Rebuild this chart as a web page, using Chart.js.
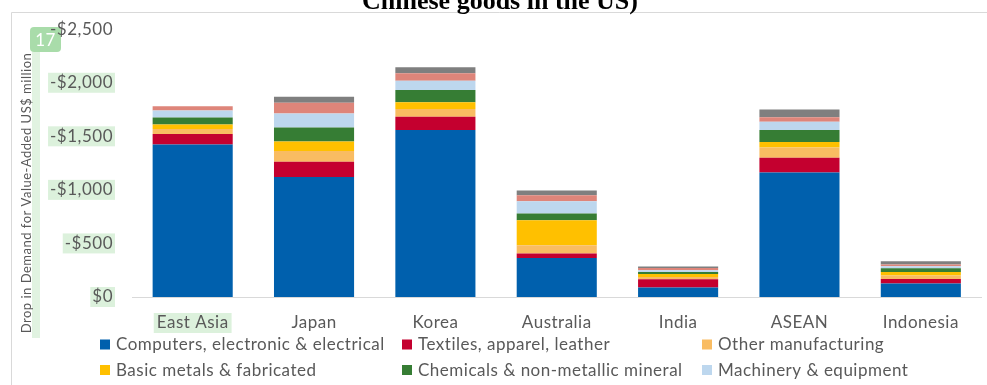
<!DOCTYPE html>
<html>
<head>
<meta charset="utf-8">
<script src="https://cdn.jsdelivr.net/npm/chart.js@4.4.1/dist/chart.umd.min.js"></script>
<style>
  html, body { margin: 0; padding: 0; background: #ffffff; }
  #wrap { width: 987px; height: 385px; position: relative; }
</style>
</head>
<body>
<div id="wrap"><canvas id="chart" width="987" height="385"></canvas></div>
<script>
// Regions hit by the demand drop
const regions = ['East Asia', 'Japan', 'Korea', 'Australia', 'India', 'ASEAN', 'Indonesia'];

// Drop in value-added demand by sector, US$ million (negative = drop)
const computersElectronic = [-1423, -1121, -1558, -364, -88, -1163, -125];
const textilesApparel     = [-98, -141, -124, -42, -77, -136, -43];
const otherManufacturing  = [-47, -100, -72, -77, -22, -97, -32];
const basicMetals         = [-43, -90, -63, -234, -28, -50, -34];
const chemicalsMineral    = [-65, -131, -115, -62, -19, -112, -34];
const machineryEquipment  = [-65, -131, -87, -115, -16, -78, -19];
const transportEquipment  = [-40, -99, -69, -56, -21, -41, -16];
const otherSectors        = [0, -56, -56, -44, -13, -74, -31];

const sectorLabels = [
  'Computers, electronic & electrical',
  'Textiles, apparel, leather',
  'Other manufacturing',
  'Basic metals & fabricated',
  'Chemicals & non-metallic mineral',
  'Machinery & equipment',
  'Transport equipment',
  'Other'
];

// Y-axis ticks (US$ million)
const yTickValues = [-2500, -2000, -1500, -1000, -500, 0];

const sectorSeries = [computersElectronic, textilesApparel, otherManufacturing, basicMetals,
                      chemicalsMineral, machineryEquipment, transportEquipment, otherSectors];
const sectorColors = ['#0060ad', '#c4002f', '#f9bc62', '#ffc000', '#367d34', '#bdd7ee', '#de857a', '#7f7f7f'];

const FONT = 'Lato, "Open Sans", "Liberation Sans", sans-serif';
const FONT_SIZE = 17;
const SPACING = '0.5px';
const TEXT_GRAY = '#595959';
const MARK_GREEN = 'rgba(214, 239, 214, 0.85)';

function fmtMoney(v) {
  if (v === 0) return '$0';
  return (v < 0 ? '-$' : '$') + Math.abs(v).toLocaleString('en-US');
}

// Frame, heading and soft green marks behind a few labels
const backdropPlugin = {
  id: 'backdrop',
  beforeDraw(chart) {
    const { ctx, chartArea, scales } = chart;
    ctx.save();
    ctx.letterSpacing = '0px';
    ctx.fillStyle = '#ffffff';
    ctx.fillRect(0, 0, chart.width, chart.height);

    // thin frame
    ctx.strokeStyle = '#d9d9d9';
    ctx.lineWidth = 1;
    ctx.beginPath();
    ctx.moveTo(11.5, chart.height);
    ctx.lineTo(11.5, 12.5);
    ctx.lineTo(chart.width, 12.5);
    ctx.stroke();

    // heading (top line clipped by the canvas edge)
    ctx.fillStyle = '#000000';
    ctx.font = 'bold 26px "Liberation Serif", "Times New Roman", serif';
    ctx.textAlign = 'center';
    ctx.textBaseline = 'alphabetic';
    ctx.fillText('Chinese goods in the US)', 500, 8.5);

    // green marks behind y tick labels
    ctx.letterSpacing = SPACING;
    ctx.font = FONT_SIZE + 'px ' + FONT;
    const yScale = scales.y;
    const labelRight = chartArea.left - 19;
    yTickValues.forEach(v => {
      if (v === -2500) return;
      const y = yScale.getPixelForValue(v);
      const w = ctx.measureText(fmtMoney(v)).width;
      ctx.fillStyle = MARK_GREEN;
      ctx.fillRect(labelRight - w - 2, y - 10, w + 4, 20);
    });

    // green mark behind first category label
    const xScale = scales.x;
    const cx = xScale.getPixelForValue(0);
    const wl = ctx.measureText(regions[0]).width;
    ctx.fillRect(cx - wl / 2 - 3, 313, wl + 6, 20);

    // vertical strip beside axis title
    ctx.fillStyle = 'rgba(222, 242, 222, 0.9)';
    ctx.fillRect(32, 52, 8, 286);

    // numbered badge
    ctx.fillStyle = '#a9dcaa';
    const bx = 30, by = 27, bw = 31, bh = 25, r = 4;
    ctx.beginPath();
    ctx.moveTo(bx + r, by);
    ctx.lineTo(bx + bw - r, by);
    ctx.quadraticCurveTo(bx + bw, by, bx + bw, by + r);
    ctx.lineTo(bx + bw, by + bh - r);
    ctx.quadraticCurveTo(bx + bw, by + bh, bx + bw - r, by + bh);
    ctx.lineTo(bx + r, by + bh);
    ctx.quadraticCurveTo(bx, by + bh, bx, by + bh - r);
    ctx.lineTo(bx, by + r);
    ctx.quadraticCurveTo(bx, by, bx + r, by);
    ctx.fill();
    ctx.fillStyle = '#ffffff';
    ctx.font = '17px ' + FONT;
    ctx.textAlign = 'center';
    ctx.textBaseline = 'middle';
    ctx.fillText('17', bx + bw / 2, by + bh / 2 + 1);
    ctx.restore();

    // wider tracking for the axis labels drawn next
    ctx.letterSpacing = SPACING;
  }
};

// Axis title and three-column legend
const annotatePlugin = {
  id: 'annotate',
  afterDraw(chart) {
    const { ctx } = chart;
    ctx.save();
    ctx.letterSpacing = SPACING;
    // y-axis title
    ctx.translate(27, 193);
    ctx.rotate(-Math.PI / 2);
    ctx.fillStyle = TEXT_GRAY;
    ctx.font = '13px ' + FONT;
    ctx.textAlign = 'center';
    ctx.textBaseline = 'middle';
    ctx.fillText('Drop in Demand for Value-Added US$ million', 0, 0);
    ctx.restore();

    // legend
    ctx.save();
    ctx.letterSpacing = SPACING;
    const colX = [100, 402, 702];
    const rowY0 = 344.5, rowStep = 25.5;
    ctx.font = FONT_SIZE + 'px ' + FONT;
    ctx.textBaseline = 'middle';
    ctx.textAlign = 'left';
    chart.data.datasets.forEach((ds, i) => {
      const col = i % 3, row = Math.floor(i / 3);
      const y = rowY0 + row * rowStep;
      if (y > chart.height) return;
      const x = colX[col];
      ctx.fillStyle = ds.backgroundColor;
      ctx.fillRect(x, y - 5, 10, 10);
      ctx.fillStyle = TEXT_GRAY;
      ctx.fillText(ds.label, x + 16, y + 0.5);
    });
    ctx.restore();
    ctx.letterSpacing = '0px';
  }
};

const datasets = sectorSeries.map((values, i) => ({
  label: sectorLabels[i],
  data: values,
  backgroundColor: sectorColors[i],
  borderWidth: 0,
  barPercentage: 0.66,
  categoryPercentage: 1.0,
  stack: 'drop'
}));

new Chart(document.getElementById('chart'), {
  type: 'bar',
  data: { labels: regions, datasets },
  options: {
    responsive: false,
    animation: false,
    layout: { padding: { left: 0, right: 5.5, top: 29, bottom: 0 } },
    plugins: {
      legend: { display: false },
      title: { display: false },
      tooltip: { enabled: false }
    },
    scales: {
      x: {
        stacked: true,
        grid: { display: false, drawTicks: false },
        border: { display: true, color: '#d9d9d9', width: 1 },
        ticks: { color: TEXT_GRAY, font: { family: FONT, size: FONT_SIZE }, padding: 15, maxRotation: 0 },
        afterFit(scale) { scale.height = 88; }
      },
      y: {
        stacked: true,
        reverse: true,
        min: -2500,
        max: 0,
        grid: { display: false, drawTicks: false },
        border: { display: false },
        afterBuildTicks(scale) { scale.ticks = yTickValues.map(v => ({ value: v })); },
        ticks: {
          color: TEXT_GRAY,
          font: { family: FONT, size: FONT_SIZE },
          padding: 19,
          callback: v => fmtMoney(v)
        },
        afterFit(scale) { scale.width = 132; }
      }
    }
  },
  plugins: [backdropPlugin, annotatePlugin]
});
</script>
</body>
</html>
